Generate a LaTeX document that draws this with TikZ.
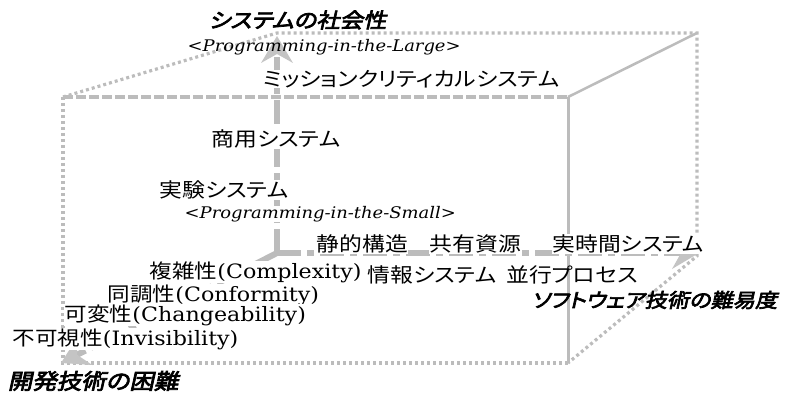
\documentclass[tikz,border=0pt]{standalone}
\usepackage{fontspec}
\setmainfont{DejaVu Serif}[FakeStretch=1.12]
\newfontfamily\jp{Noto Sans CJK JP}[RawFeature=+palt,FakeStretch=1.14]
\newfontfamily\jpbi{Noto Sans CJK JP}[RawFeature=+palt,FakeStretch=1.14,FakeSlant=0.22,FakeBold=3.5]
\usetikzlibrary{arrows.meta}
\definecolor{lg}{RGB}{188,188,188}
\definecolor{tipgray}{RGB}{196,196,196}
\tikzset{
  dotline/.style={lg, line width=3.2pt, dash pattern=on 3pt off 3pt},
  dashline/.style={lg, line width=3.2pt, dash pattern=on 10pt off 3pt},
  solidline/.style={lg, line width=3pt},
  axisline/.style={lg, line width=6pt, dash pattern=on 24pt off 6pt on 7pt off 6pt,
    -{Stealth[length=27pt,width=32pt,inset=9pt,line width=0pt,color=tipgray]}},
  lbl/.style={anchor=west, inner sep=0.5pt, fill=white, font=\jp\fontsize{20}{23}\selectfont},
  lblnf/.style={anchor=west, inner sep=0.5pt, font=\jp\fontsize{20}{23}\selectfont},
  ttl/.style={anchor=west, inner sep=0.5pt, font=\jpbi\fontsize{20.5}{24}\selectfont},
  prog/.style={anchor=west, inner sep=0.5pt, font=\itshape\fontsize{16}{20}\selectfont},
  mix/.style={anchor=west, inner sep=0.5pt, fill=white, font=\fontsize{19.8}{23}\selectfont},
}
\begin{document}
\begin{tikzpicture}[x=1pt,y=-1pt]
\useasboundingbox (0,0) rectangle (790,393);
% cube corners
\coordinate (FTL) at (63,97);
\coordinate (FTR) at (568,97);
\coordinate (FBL) at (63,363);
\coordinate (FBR) at (568,363);
\coordinate (BTL) at (277,33);
\coordinate (BTR) at (697,33);
\coordinate (BBR) at (697,256);
\coordinate (O) at (277,253);
\coordinate (Vtip) at (277,36);
\coordinate (Htip) at (699,253);
\coordinate (Dtip) at (61,363);
% back / hidden edges
\draw[dotline] (FTL) -- (BTL) -- (BTR) -- (BBR) -- (FBR);
% front face
\draw[dotline] (FTL) -- (FBL) -- (FBR);
\draw[dashline] (FTL) -- (FTR);
\draw[solidline] (FTR) -- (FBR);
\draw[lg, line width=2.5pt] (FTR) -- (BTR);
% axes
\draw[axisline] (O) -- (Vtip);
\draw[axisline] (O) -- (Htip);
\draw[axisline] (O) -- (Dtip);
% labels
\node[ttl] (t1) at (208,20) {システムの社会性};
\node[prog] (t2) at (187,47) {<Programming-in-the-Large>};
\node[lbl] (t3) at (262,79) {ミッションクリティカルシステム};
\node[lbl] (t4) at (211,139) {商用システム};
\node[lbl] (t5) at (159,190) {実験システム};
\node[prog, fill=white] (t6) at (184,214) {<Programming-in-the-Small>};
\node[lbl] (t7) at (316,244) {静的構造};
\node[lbl] (t8) at (429,244) {共有資源};
\node[lbl] (t9) at (552,244) {実時間システム};
\node[lbl] (t10) at (367,275) {情報システム};
\node[lblnf] (t11) at (506,275) {並行プロセス};
\node[ttl, font=\jpbi\fontsize{19.5}{23}\selectfont] (t12) at (531,300) {ソフトウェア技術の難易度};
\node[mix] (t13) at (149,272) {{\jp 複雑性}(Complexity)};
\node[mix] (t14) at (107,295) {{\jp 同調性}(Conformity)};
\node[mix] (t15) at (64,315) {{\jp 可変性}(Changeability)};
\node[mix] (t16) at (12,339) {{\jp 不可視性}(Invisibility)};
\node[ttl, font=\jpbi\fontsize{21.5}{25}\selectfont] (t17) at (7,381) {開発技術の困難};
\end{tikzpicture}
\end{document}
